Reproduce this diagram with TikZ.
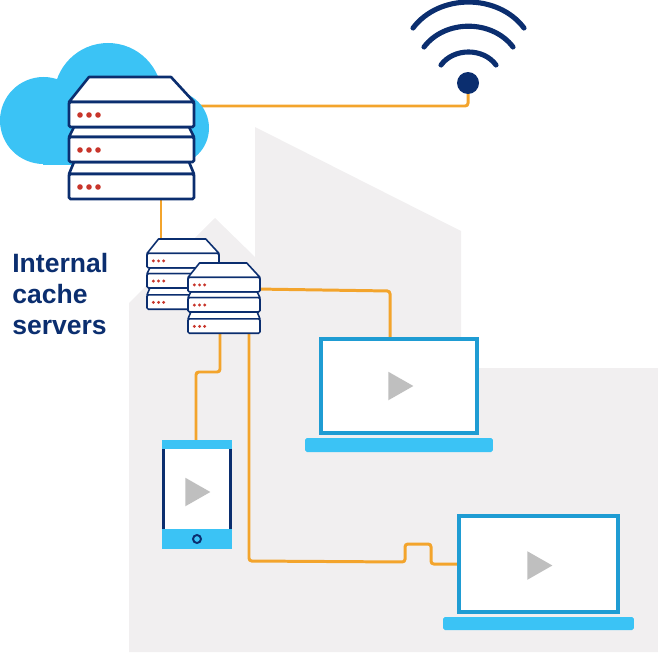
\documentclass[tikz,border=0pt]{standalone}
\usepackage{fontspec}
\setmainfont{Liberation Sans}
\usetikzlibrary{backgrounds}
\usetikzlibrary{shapes,shapes.geometric}
\pgfdeclarelayer{edgelayer}
\pgfdeclarelayer{nodelayer}
\pgfsetlayers{background,edgelayer,nodelayer,main}
\definecolor{navy}{HTML}{0B2E6F}
\definecolor{skyblue}{HTML}{3BC3F5}
\definecolor{screenblue}{HTML}{1F9CD3}
\definecolor{linkorange}{HTML}{F3A42C}
\definecolor{playgrey}{HTML}{BFBFBF}
\definecolor{wallgrey}{HTML}{F1EFF0}
\definecolor{ledred}{HTML}{C8352B}
\tikzstyle{none}=[inner sep=0mm,minimum size=0pt]
\tikzstyle{link}=[draw=linkorange,line width=1.7pt,rounded corners=1.6pt]
\tikzstyle{wifi arc}=[draw=navy,line width=2.9pt,line cap=round]
\tikzstyle{screen}=[draw=screenblue,fill=white,line width=2.2pt,inner sep=0pt]
\tikzstyle{keyboard}=[fill=skyblue,inner sep=0pt,rounded corners=1pt]
\tikzstyle{phone bar}=[fill=skyblue,inner sep=0pt,minimum width=1.4cm]
\tikzstyle{phone side}=[fill=navy,inner sep=0pt,minimum width=0.06cm,minimum height=1.6cm]
\tikzstyle{play}=[fill=playgrey,shape=isosceles triangle,isosceles triangle stretches,
	inner sep=0pt,minimum width=0.57cm,minimum height=0.5cm,anchor=lower side]
\tikzset{
	serverstack/.pic={
		\draw [draw=navy,fill=white,line join=round] (20,0) -- (102,0) -- (125,25) -- (0,25) -- cycle;
		\draw [draw=navy,fill=white,line join=round] (5,50) -- (120,50) -- (125,60) -- (0,60) -- cycle;
		\draw [draw=navy,fill=white,line join=round] (5,85) -- (120,85) -- (125,97) -- (0,97) -- cycle;
		\foreach \top in {25,60,97} {
			\draw [draw=navy,fill=white,rounded corners=0.8pt] (0,\top) rectangle (125,\top+25);
			\foreach \dot in {11,20,29}
				\fill [ledred] (\dot,\top+13) circle (2.8);
		}
	}
}
\begin{document}
\begin{tikzpicture}[x=0.02cm,y=-0.02cm]
	\useasboundingbox (0,0) rectangle (658,652);
	\begin{pgfonlayer}{background}
		% factory outline behind everything
		\fill [wallgrey] (129,652) -- (129,303) -- (215,218) -- (255,257) -- (255,127)
			-- (461,231) -- (461,368) -- (658,368) -- (658,652) -- cycle;
	\end{pgfonlayer}
	\begin{pgfonlayer}{nodelayer}
		% cloud
		\fill [skyblue] (43.5,120.5) circle (43.5);
		\fill [skyblue] (108,97) circle (54);
		\fill [skyblue] (172,128) circle (37);
		\fill [skyblue] (43,100) rectangle (172,164.5);
		% servers
		\pic [line width=1.5pt] at (69,77) {serverstack};
		\pic [line width=0.9pt,scale=0.576] at (147,239) {serverstack};
		\pic [line width=0.9pt,scale=0.576] at (188,263) {serverstack};
		% wifi
		\node [style=none] (wifi1) at (413,28) {};
		\node [style=none] (wifi2) at (524,28) {};
		\node [style=none] (wifi3) at (424,47) {};
		\node [style=none] (wifi4) at (513,47) {};
		\node [style=none] (wifi5) at (441,65) {};
		\node [style=none] (wifi6) at (496,65) {};
		\node [shape=circle,fill=navy,inner sep=0pt,minimum size=0.44cm] (wifi) at (468,83) {};
		\draw [style=wifi arc, bend left=53, looseness=1.00] (wifi1.center) to (wifi2.center);
		\draw [style=wifi arc, bend left=53, looseness=1.00] (wifi3.center) to (wifi4.center);
		\draw [style=wifi arc, bend left=54, looseness=1.00] (wifi5.center) to (wifi6.center);
		% first laptop
		\node [style=screen,minimum width=3.12cm,minimum height=1.88cm] (screen1) at (399,386) {};
		\node [style=keyboard,minimum width=3.76cm,minimum height=0.28cm] (base1) at (399,445) {};
		\node [style=play] (play1) at (388,386) {};
		% second laptop
		\node [style=screen,minimum width=3.18cm,minimum height=1.92cm] (screen2) at (538.5,564) {};
		\node [style=keyboard,minimum width=3.82cm,minimum height=0.26cm] (base2) at (538.5,623.5) {};
		\node [style=play] (play2) at (527,565.5) {};
		% phone
		\node [fill=white,inner sep=0pt,minimum width=1.4cm,minimum height=1.6cm] (phone) at (197,489) {};
		\node [style=phone side] (side1) at (163.5,489) {};
		\node [style=phone side] (side2) at (230.5,489) {};
		\node [style=phone bar,minimum height=0.18cm] (bar1) at (197,444.5) {};
		\node [style=phone bar,minimum height=0.4cm] (bar2) at (197,539) {};
		\node [style=play] (play3) at (185,492) {};
		\node [shape=circle,draw=navy,line width=1.1pt,inner sep=0pt,minimum size=0.16cm] (button) at (197,539) {};
		% label
		\node [font=\bfseries\fontsize{15.1}{17.4}\selectfont,text=navy,align=left,anchor=west,inner sep=0pt] (label) at (12,294) {Internal\\cache\\servers};
	\end{pgfonlayer}
	\begin{pgfonlayer}{edgelayer}
		\node [style=none] (a1) at (190,106) {};
		\node [style=none] (a2) at (468,106) {};
		\node [style=none] (b1) at (161,195) {};
		\node [style=none] (b2) at (161,245) {};
		\node [style=none] (c1) at (255,289) {};
		\node [style=none] (c2) at (390,291) {};
		\node [style=none] (c3) at (390,340) {};
		\node [style=none] (d1) at (220,330) {};
		\node [style=none] (d2) at (220,372) {};
		\node [style=none] (d3) at (196,372) {};
		\node [style=none] (d4) at (196,442) {};
		\node [style=none] (e1) at (249,330) {};
		\node [style=none] (e2) at (249,561) {};
		\node [style=none] (e3) at (405,562) {};
		\node [style=none] (e4) at (405,544) {};
		\node [style=none] (e5) at (431,544) {};
		\node [style=none] (e6) at (431,564) {};
		\node [style=none] (e7) at (460,564) {};
		\draw [style=link] (a1.center) -- (a2.center) -- (wifi.center);
		\draw [style=link] (b1.center) -- (b2.center);
		\draw [style=link] (c1.center) -- (c2.center) -- (c3.center);
		\draw [style=link] (d1.center) -- (d2.center) -- (d3.center) -- (d4.center);
		\draw [style=link] (e1.center) -- (e2.center) -- (e3.center) -- (e4.center) -- (e5.center) -- (e6.center) -- (e7.center);
	\end{pgfonlayer}
\end{tikzpicture}
\end{document}
